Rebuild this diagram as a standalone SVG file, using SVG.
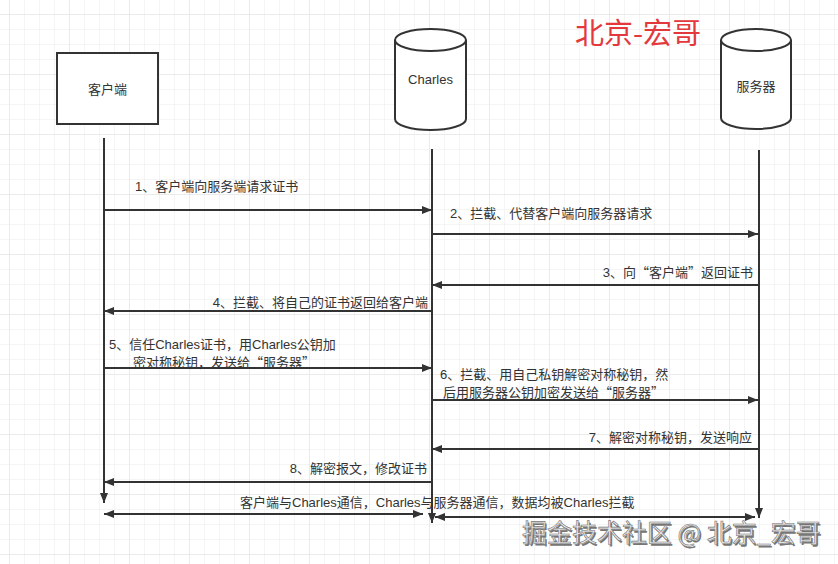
<svg xmlns="http://www.w3.org/2000/svg" width="838" height="564" viewBox="0 0 838 564">
<defs>
<pattern id="gMinor" x="9" y="14" width="15" height="15" patternUnits="userSpaceOnUse">
<path d="M0,0 H15 M0,0 V15" stroke="#ececec" stroke-width="1" fill="none"/>
</pattern>
<pattern id="gMajor" x="9" y="14" width="60" height="60" patternUnits="userSpaceOnUse">
<path d="M0,0 H60 M0,0 V60" stroke="#e2e2e2" stroke-width="1" fill="none"/>
</pattern>
<marker id="ah" viewBox="0 0 10 8" refX="10" refY="4" markerWidth="10" markerHeight="8" markerUnits="userSpaceOnUse" orient="auto-start-reverse">
<path d="M0,0 L10,4 L0,8 z" fill="#333"/>
</marker>
</defs>
<style>
.ln{stroke:#333;stroke-width:2;fill:none}
.nd{stroke:#333;stroke-width:2;fill:#fff}
.t{font-family:"Liberation Sans","Noto Sans CJK SC",sans-serif;font-size:13px;fill:#333}
.q{font-family:"Noto Sans CJK SC",sans-serif}
.title{font-family:"Noto Sans CJK SC",sans-serif;font-size:29px;fill:#e4393c}
.wm{font-family:"Noto Sans CJK SC",sans-serif;font-size:25px}
</style>
<rect width="838" height="564" fill="#fff"/>
<rect width="838" height="564" fill="url(#gMinor)"/>
<rect width="838" height="564" fill="url(#gMajor)"/>

<g id="client">
<rect class="nd" x="57" y="53" width="101" height="71"/>
<text class="t" x="107.5" y="93.5" text-anchor="middle">客户端</text>
</g>
<g id="charles">
<path class="nd" d="M395,40 a35.5,11 0 0 1 71,0 v79 a35.5,11 0 0 1 -71,0 z"/>
<path class="ln" d="M395,40 a35.5,11 0 0 0 71,0"/>
<text class="t" x="430.5" y="84" text-anchor="middle">Charles</text>
</g>
<g id="server">
<path class="nd" d="M721,40 a35,11 0 0 1 70,0 v78 a35,11 0 0 1 -70,0 z"/>
<path class="ln" d="M721,40 a35,11 0 0 0 70,0"/>
<text class="t" x="756" y="90.5" text-anchor="middle">服务器</text>
</g>
<g id="title">
<text class="title" x="575" y="43.5">北京-宏哥</text>
</g>

<g id="connectors">
<line class="ln" x1="104" y1="138" x2="104" y2="503" marker-end="url(#ah)"/>
<line class="ln" x1="432" y1="149" x2="432" y2="523" marker-end="url(#ah)"/>
<line class="ln" x1="759" y1="150" x2="759" y2="518" marker-end="url(#ah)"/>

<line class="ln" x1="104" y1="210" x2="432" y2="210" marker-end="url(#ah)"/>
<line class="ln" x1="432" y1="234" x2="758" y2="234" marker-end="url(#ah)"/>
<line class="ln" x1="758" y1="285" x2="432" y2="285" marker-end="url(#ah)"/>
<line class="ln" x1="432" y1="311" x2="104" y2="311" marker-end="url(#ah)"/>
<line class="ln" x1="104" y1="368" x2="432" y2="368" marker-end="url(#ah)"/>
<line class="ln" x1="432" y1="400" x2="758" y2="400" marker-end="url(#ah)"/>
<line class="ln" x1="758" y1="449" x2="432" y2="449" marker-end="url(#ah)"/>
<line class="ln" x1="432" y1="482" x2="104" y2="482" marker-end="url(#ah)"/>
<line class="ln" x1="104" y1="514" x2="423" y2="514" marker-start="url(#ah)" marker-end="url(#ah)"/>
<line class="ln" x1="435" y1="517" x2="755" y2="517" marker-start="url(#ah)" marker-end="url(#ah)"/>

<text class="t" x="135" y="191">1、客户端向服务端请求证书</text>
<text class="t" x="450" y="218">2、拦截、代替客户端向服务器请求</text>
<text class="t" x="753" y="277" text-anchor="end">3、向<tspan class="q">“</tspan>客户端<tspan class="q">”</tspan>返回证书</text>
<text class="t" x="428" y="307" text-anchor="end">4、拦截、将自己的证书返回给客户端</text>
<text class="t"><tspan x="109" y="349">5、信任Charles证书，用Charles公钥加</tspan><tspan x="133" y="367">密对称秘钥，发送给<tspan class="q">“</tspan>服务器<tspan class="q">”</tspan></tspan></text>
<text class="t"><tspan x="440" y="379">6、拦截、用自己私钥解密对称秘钥，然</tspan><tspan x="443" y="397">后用服务器公钥加密发送给<tspan class="q">“</tspan>服务器<tspan class="q">”</tspan></tspan></text>
<text class="t" x="752" y="442" text-anchor="end">7、解密对称秘钥，发送响应</text>
<text class="t" x="427" y="473" text-anchor="end">8、解密报文，修改证书</text>
<text class="t" x="240" y="507">客户端与Charles通信，Charles与服务器通信，数据均被Charles拦截</text>
</g>

<g id="watermark">
<text class="wm" x="523.5" y="543.5" fill="#555" opacity="0.8">掘金技术社区 @ 北京_宏哥</text>
<text class="wm" x="522" y="542" fill="#e6e6e6" stroke="#777" stroke-width="0.6">掘金技术社区 @ 北京_宏哥</text>
</g>
</svg>
